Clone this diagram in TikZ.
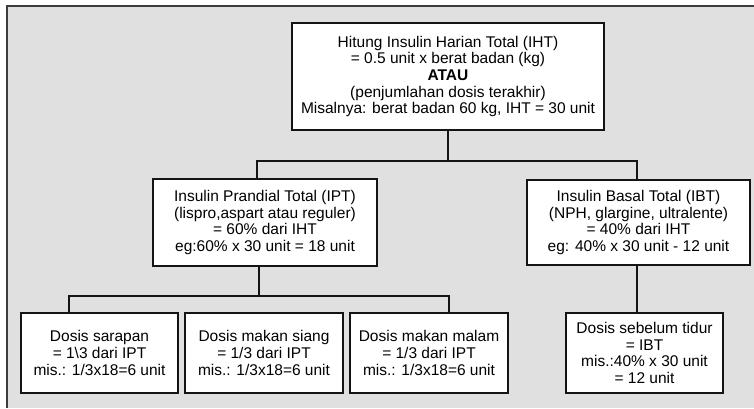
\documentclass[tikz,border=0pt]{standalone}
\usepackage{fontspec}
\setmainfont{Liberation Sans}
\usetikzlibrary{calc}

\definecolor{panelcol}{RGB}{224, 224, 224}
\definecolor{paneledge}{RGB}{60, 60, 60}
\definecolor{boxedge}{RGB}{20, 20, 20}

\tikzset{
  dosebox/.style={draw=boxedge, fill=white, line width=2pt, align=center, inner sep=0pt,
    font=\fontsize{15.5}{16.7}\selectfont},
  link/.style={draw=boxedge, line width=1.8pt}
}

\begin{document}
\begin{tikzpicture}[x=1pt, y=-1pt]
        \useasboundingbox (0,0) rectangle (754,408);

        % Panel
        \fill[panelcol] (7,6) rectangle (754,408);
        \draw[paneledge, line width=1.6pt] (7,408) -- (7,6) -- (754,6);

        % Boxes
        \node[dosebox, minimum width=312pt, minimum height=107pt] (iht) at (448,76.5)
          {Hitung Insulin Harian Total (IHT)\\= 0.5 unit x berat badan (kg)\\\textbf{ATAU}\\(penjumlahan dosis terakhir)\\Misalnya: berat badan 60 kg, IHT = 30 unit};
        \node[dosebox, minimum width=224pt, minimum height=87pt] (ipt) at (265,222.5)
          {Insulin Prandial Total (IPT)\\(lispro,aspart atau reguler)\\= 60\% dari IHT\\eg:60\% x 30 unit = 18 unit};
        \node[dosebox, minimum width=223pt, minimum height=85pt] (ibt) at (638.5,222.5)
          {Insulin Basal Total (IBT)\\(NPH, glargine, ultralente)\\= 40\% dari IHT\\eg: 40\% x 30 unit - 12 unit};
        \node[dosebox, minimum width=157pt, minimum height=80pt] (sarapan) at (99.5,353)
          {Dosis sarapan\\= 1\textbackslash 3 dari IPT\\mis.: 1/3x18=6 unit};
        \node[dosebox, minimum width=158pt, minimum height=80pt] (siang) at (264,353)
          {Dosis makan siang\\= 1/3 dari IPT\\mis.: 1/3x18=6 unit};
        \node[dosebox, minimum width=158pt, minimum height=80pt] (malam) at (429,353)
          {Dosis makan malam\\= 1/3 dari IPT\\mis.: 1/3x18=6 unit};
        \node[dosebox, minimum width=157pt, minimum height=80pt] (tidur) at (644.5,353)
          {Dosis sebelum tidur\\= IBT\\mis.:40\% x 30 unit\\= 12 unit};

        % Junctions
        \coordinate (jtop) at (448,161);
        \coordinate (jbot) at (259,296);

        % Connectors
        \draw[link] (iht.south) -- (jtop);
        \draw[link] ([xshift=-8pt]ipt.north) |- (jtop) -| ([xshift=-1.5pt]ibt.north);
        \draw[link] (ipt.south -| jbot) -- (jbot);
        \draw[link] ([xshift=-30.5pt]sarapan.north) |- (jbot) -| ([xshift=20pt]malam.north);
        \draw[link] ([xshift=-1.5pt]ibt.south) -- ([xshift=-1.5pt]ibt.south |- tidur.north);
      \end{tikzpicture}
\end{document}
